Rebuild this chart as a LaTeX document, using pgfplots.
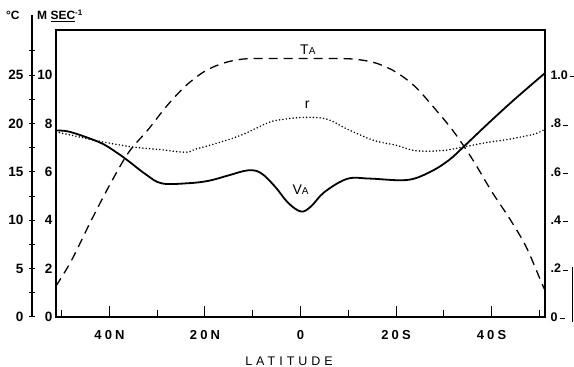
\documentclass[border=0pt]{standalone}
\usepackage{pgfplots}
\usepackage{pgfplotstable}
\pgfplotsset{compat=1.18}
\usepackage{fontspec}
\setmainfont{Liberation Sans}
\newfontfamily\spaced[LetterSpace=24]{Liberation Sans}
\newfontfamily\wide[LetterSpace=32]{Liberation Sans}

% V_A, m/s
\pgfplotstableread{
lat V
-51.2 7.70
-48.3 7.65
-42.1 7.22
-38.6 6.81
-35.8 6.41
-32.3 5.88
-29.0 5.52
-23.4 5.53
-19.2 5.63
-15.1 5.85
-11.0 6.06
-8.3 5.95
-5.3 5.38
-2.6 4.72
0.1 4.36
2.2 4.57
5.0 5.16
9.8 5.71
14.5 5.72
22.2 5.66
26.9 5.97
31.0 6.47
34.5 7.10
39.2 7.98
44.8 8.99
51.2 10.08
}\Vdata

% T_A, deg C
\pgfplotstableread{
lat T
-51.2 3.2
-48.0 5.8
-44.0 9.8
-40.0 13.6
-36.0 17.0
-32.0 19.3
-28.0 21.8
-24.0 23.9
-20.0 25.4
-16.0 26.25
-12.0 26.65
-8.0 26.7
0.0 26.7
8.0 26.7
12.0 26.6
16.0 26.2
20.0 25.3
24.0 23.8
28.0 21.6
32.0 19.2
36.0 16.3
40.0 13.0
44.0 10.0
47.3 7.2
50.6 3.4
51.2 2.8
}\Tdata

% r
\pgfplotstableread{
lat r
-51.2 0.765
-45.6 0.741
-42.1 0.726
-35.3 0.703
-29.6 0.692
-24.0 0.681
-21.9 0.694
-17.9 0.716
-12.5 0.751
-6.9 0.802
-4.2 0.815
0.7 0.825
5.5 0.818
9.6 0.778
15.3 0.730
20.0 0.710
24.2 0.687
29.8 0.688
33.9 0.702
38.7 0.720
43.4 0.734
49.0 0.756
51.2 0.777
}\Rdata

\pgfplotsset{
  base/.style={
    at={(0,0)}, anchor=south west,
    width=489pt, height=287pt, scale only axis,
    xmin=-51.2, xmax=51.2,
    /pgf/number format/assume math mode=true,
    every tick label/.append style={font=\bfseries\fontsize{13.5}{13.5}\selectfont},
  }
}

\begin{document}
\begin{tikzpicture}
\useasboundingbox (-56pt,-50pt) rectangle (518pt,317pt);

% main axis: V_A in m/s
\begin{axis}[base, name=m,
  clip mode=individual,
  ymin=0, ymax=11.86,
  axis line style={line width=1.2pt},
  xtick={-40,-20,0,20,40}, xticklabels={40N,20N,0,20S,40S},
  minor xtick={-50,-30,-10,10,30,50},
  xtick pos=lower, tick align=inside,
  x tick style={line width=1pt, black},
  major tick length=11pt, minor tick length=7pt,
  xticklabel style={font=\spaced\bfseries\fontsize{13}{13}\selectfont, yshift=-10pt},
  ytick={0,2,4,6,8,10}, yticklabels={0,2,4,6,8,10},
  ytick pos=left, y tick style={draw=none},
]
\addplot[line width=1.8pt, black, smooth, tension=0.6] table[x=lat, y=V] {\Vdata};
\node[anchor=base west, inner sep=0, font=\fontsize{14}{14}\selectfont] at (axis cs:-0.1,10.85) {T{\fontsize{10}{10}\selectfont A}};
\node[anchor=base west, inner sep=0, font=\fontsize{14}{14}\selectfont] at (axis cs:0.9,8.6) {r};
\node[anchor=base west, inner sep=0, font=\fontsize{14}{14}\selectfont] at (axis cs:-1.7,5.08) {V{\fontsize{10}{10}\selectfont A}};
\node[anchor=base, inner sep=0, font=\wide\fontsize{12.5}{12.5}\selectfont] at ([yshift=-48.5pt]axis cs:-2.4,0) {LATITUDE};
\node[anchor=base west, inner sep=0, font=\bfseries\fontsize{12}{12}\selectfont] at ([xshift=-50pt,yshift=10pt]axis cs:-51.2,11.86) {°C};
\node[anchor=base west, inner sep=0, font=\bfseries\fontsize{12}{12}\selectfont] at ([xshift=-19pt,yshift=10pt]axis cs:-51.2,11.86) {M \underline{SEC}\textsuperscript{-1}};
\end{axis}

% deg C axis
\begin{axis}[base,
  ymin=0, ymax=29.65,
  hide x axis, axis y line*=left, axis y line shift=24pt,
  y axis line style={line width=1.3pt},
  ytick={0,5,10,15,20,25}, minor ytick={2.5,7.5,12.5,17.5,22.5,27.5},
  tick align=center, major tick length=6pt, minor tick length=6pt,
  y tick style={line width=1pt, black},
  yticklabel style={xshift=-2pt},
]
\addplot[line width=1.3pt, black, dash pattern=on 9pt off 6pt, smooth, tension=0.55] table[x=lat, y=T] {\Tdata};
\end{axis}

% r axis
\begin{axis}[base,
  ymin=0, ymax=1.186,
  hide x axis, axis y line*=right,
  y axis line style={draw=none},
  ytick={0,0.2,0.4,0.6,0.8,1.0},
  yticklabels={0\,\rule[0.33ex]{5pt}{1pt},.2\,\rule[0.33ex]{5pt}{1pt},.4\,\rule[0.33ex]{5pt}{1pt},.6\,\rule[0.33ex]{5pt}{1pt},.8\,\rule[0.33ex]{5pt}{1pt},1.0\,\rule[0.33ex]{5pt}{1pt}},
  major tick length=0pt, y tick style={draw=none},
  yticklabel style={xshift=2pt, font=\bfseries\fontsize{12.5}{12.5}\selectfont},
]
\addplot[line width=1.7pt, black, line cap=round, dash pattern=on 0pt off 3.4pt, smooth, tension=0.6] table[x=lat, y=r] {\Rdata};
\end{axis}

\draw[line width=1.3pt] (m.north west) ++(-24pt,-1pt) -- ++(0,16pt);
\draw[line width=1pt] (m.south east) ++(27.5pt,-5pt) -- ++(0,55pt);
\end{tikzpicture}
\end{document}
